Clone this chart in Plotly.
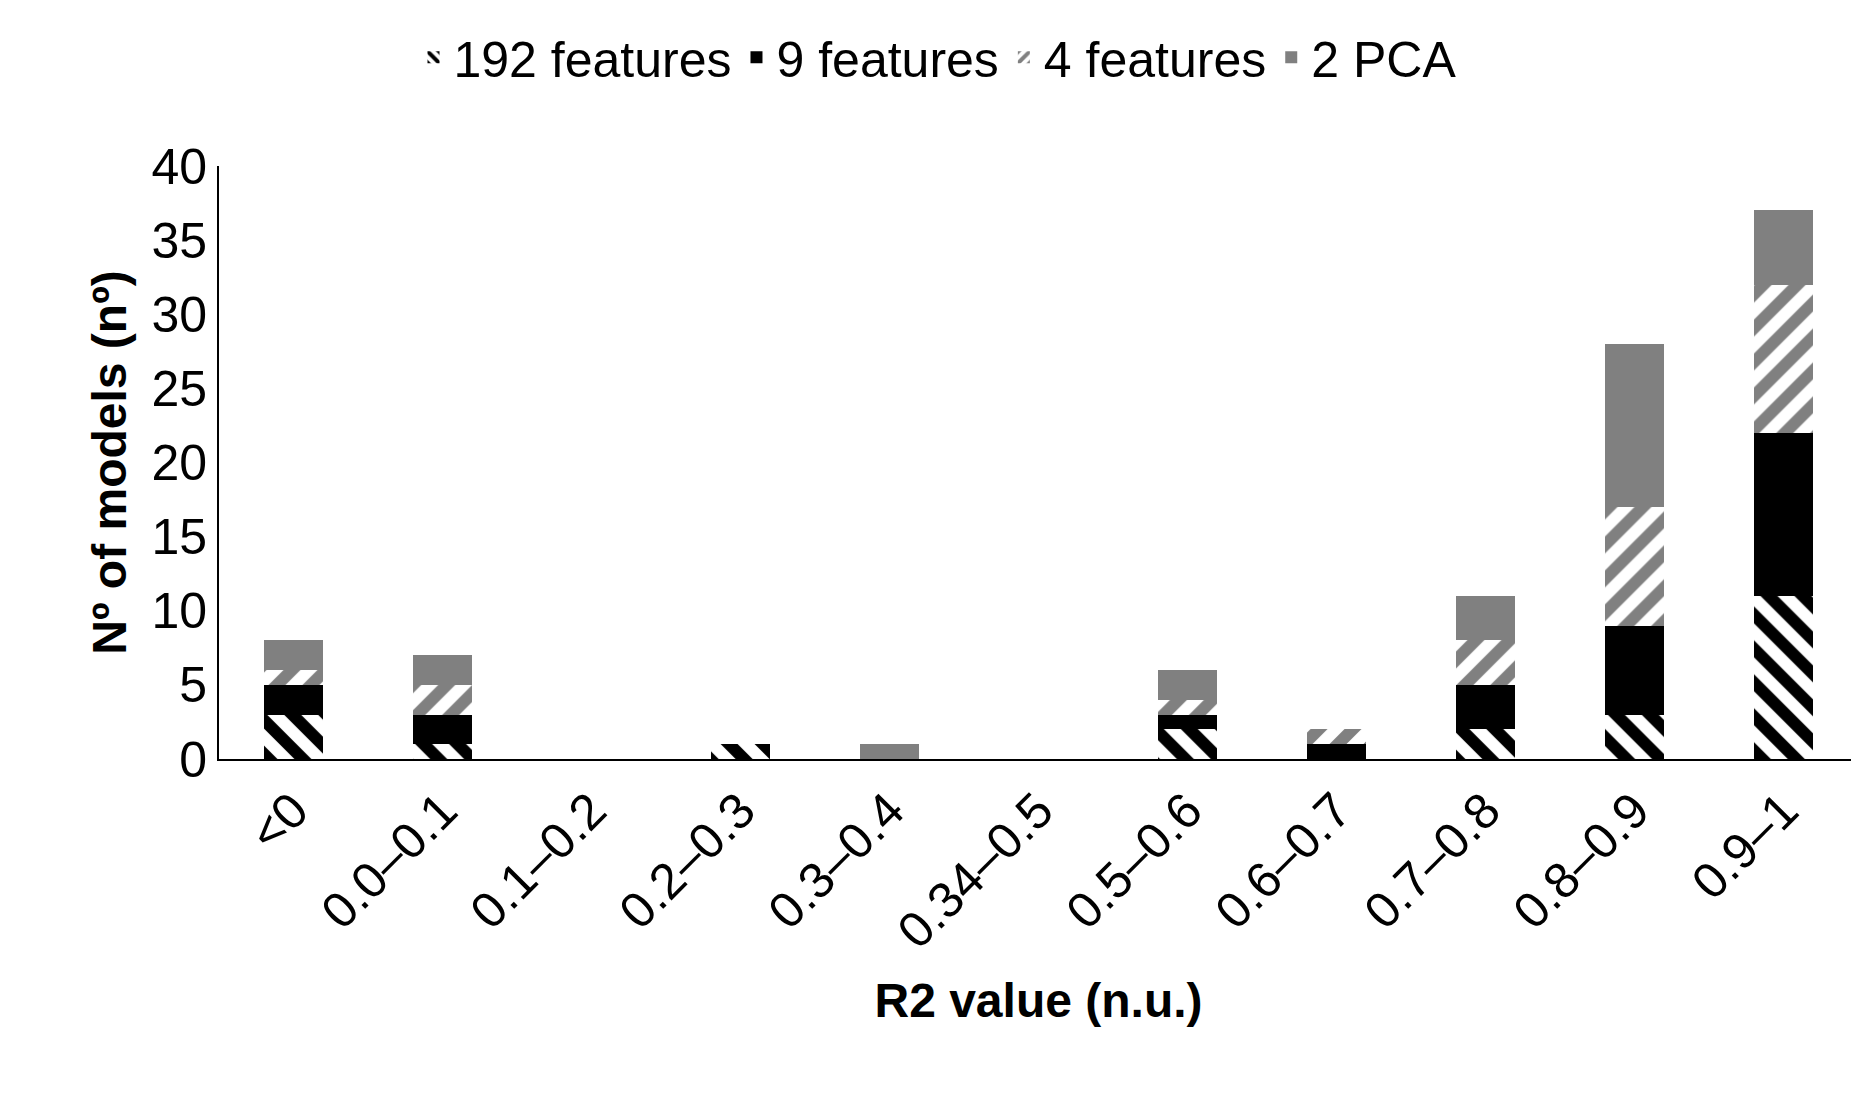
import plotly.graph_objects as go

categories = ["<0", "0.0–0.1", "0.1–0.2", "0.2–0.3", "0.3–0.4", "0.34–0.5",
              "0.5–0.6", "0.6–0.7", "0.7–0.8", "0.8–0.9", "0.9–1"]
f192 = [3, 1, 0, 1, 0, 0, 2, 0, 2, 3, 11]
f9 = [2, 2, 0, 0, 0, 0, 1, 1, 3, 6, 11]
f4 = [1, 2, 0, 0, 0, 0, 1, 1, 3, 8, 10]
pca = [2, 2, 0, 0, 1, 0, 2, 0, 3, 11, 5]

font = "Liberation Sans, Arial, sans-serif"
fig = go.Figure()
fig.add_bar(x=categories, y=f192, name="192 features",
            marker=dict(color="white", line=dict(width=0),
                        pattern=dict(shape="\\", fgcolor="black", bgcolor="white", fgopacity=1,
                                     size=24, solidity=0.5)))
fig.add_bar(x=categories, y=f9, name="9 features", marker=dict(color="black", line=dict(width=0)))
fig.add_bar(x=categories, y=f4, name="4 features",
            marker=dict(color="white", line=dict(width=0),
                        pattern=dict(shape="/", fgcolor="#808080", bgcolor="white", fgopacity=1,
                                     size=24, solidity=0.5)))
fig.add_bar(x=categories, y=pca, name="2 PCA", marker=dict(color="#808080", line=dict(width=0)))

fig.update_layout(
    barmode="stack", bargap=0.6, width=1859, height=1095,
    paper_bgcolor="white", plot_bgcolor="white",
    font=dict(family=font, size=50, color="black"),
    margin=dict(l=211, r=9, t=158, b=344),
    legend=dict(orientation="h", x=0.5, xanchor="center", xref="container",
                y=0.955, yanchor="middle", yref="container",
                font=dict(size=50), traceorder="normal"),
    xaxis=dict(tickangle=-45, showline=True, linecolor="black", linewidth=2,
               title=dict(text="<b>R2 value (n.u.)</b>", font=dict(size=48), standoff=25),
               tickfont=dict(size=50)),
    yaxis=dict(range=[0, 40], dtick=5, showgrid=False, showline=True, linecolor="black", linewidth=2,
               title=dict(text="<b>Nº of models (nº)</b>", font=dict(size=48), standoff=10),
               tickfont=dict(size=50)),
)
fig.write_html("out.html")
